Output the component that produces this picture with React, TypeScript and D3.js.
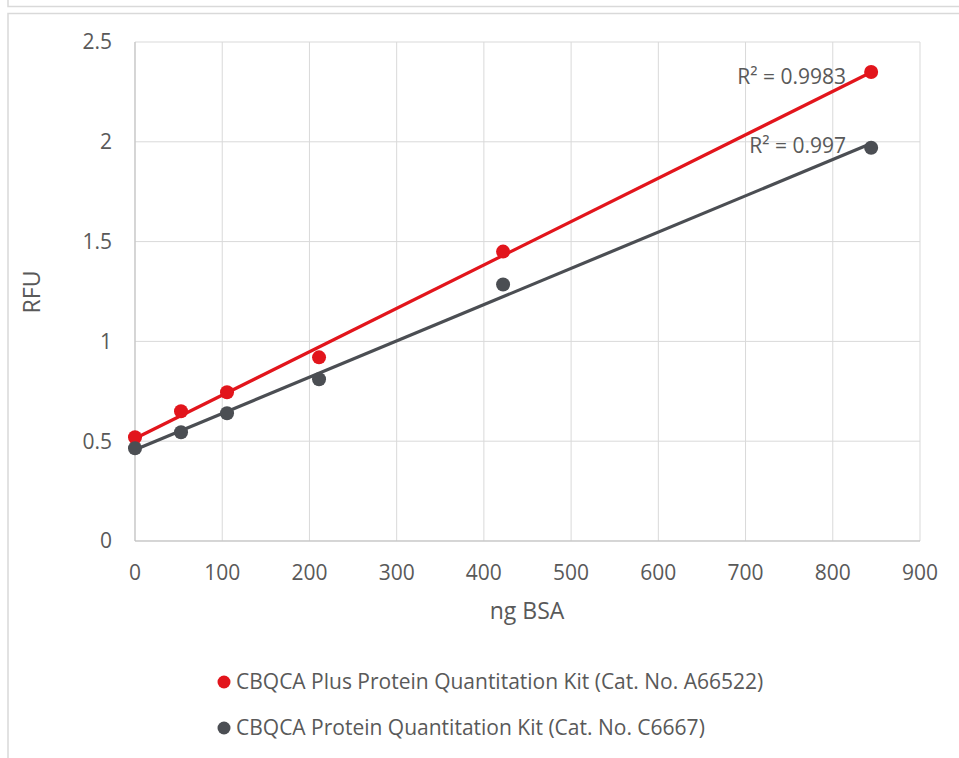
import { useRef, useEffect } from 'react'
import * as d3 from 'd3'

// ng BSA loaded per well
const xValues = [0, 52.75, 105.5, 211, 422, 844]
const plusRfu = [0.52, 0.65, 0.745, 0.92, 1.45, 2.35]
const classicRfu = [0.465, 0.545, 0.64, 0.81, 1.285, 1.97]
const xTicks = [0, 100, 200, 300, 400, 500, 600, 700, 800, 900]
const yTicks = [0, 0.5, 1, 1.5, 2, 2.5]
const seriesNames = [
  'CBQCA Plus Protein Quantitation Kit (Cat. No. A66522)',
  'CBQCA Protein Quantitation Kit (Cat. No. C6667)',
]
const r2Labels = ['R² = 0.9983', 'R² = 0.997']

const FONT = "'Open Sans', 'Noto Sans', sans-serif"
const TEXT = '#595959'
const COLORS = ['#e2151c', '#4b4e53']

function fit(xs: number[], ys: number[]) {
  const mx = d3.mean(xs) as number
  const my = d3.mean(ys) as number
  const sxy = d3.sum(xs, (x, i) => (x - mx) * (ys[i] - my))
  const sxx = d3.sum(xs, (x) => (x - mx) ** 2)
  const slope = sxy / sxx
  return { slope, intercept: my - slope * mx }
}

export default function App() {
  const svgRef = useRef<SVGSVGElement>(null)

  useEffect(() => {
    const svg = svgRef.current
    if (!svg) return
    const H = 758
    const sel = d3.select(svg)
    sel.selectAll('*').remove()

    // frame lines
    sel.append('path').attr('d', 'M8,0 V6.5 H959').attr('fill', 'none').attr('stroke', '#d9d9d9').attr('stroke-width', 1.5)
    sel.append('path').attr('d', `M8,${H} V13.5 H959`).attr('fill', 'none').attr('stroke', '#d9d9d9').attr('stroke-width', 1.5)

    const x = d3.scaleLinear().domain([0, 900]).range([135, 920])
    const y = d3.scaleLinear().domain([0, 2.5]).range([541, 42])

    const grid = sel.append('g')
    xTicks.forEach((t) => {
      grid.append('line')
        .attr('x1', x(t)).attr('x2', x(t)).attr('y1', y(0)).attr('y2', y(2.5))
        .attr('stroke', '#d9d9d9').attr('stroke-width', 1)
    })
    yTicks.forEach((t) => {
      grid.append('line')
        .attr('x1', x(0)).attr('x2', x(900)).attr('y1', y(t)).attr('y2', y(t))
        .attr('stroke', '#d9d9d9').attr('stroke-width', 1)
    })
    // axis lines
    sel.append('line').attr('x1', x(0)).attr('x2', x(900)).attr('y1', y(0)).attr('y2', y(0)).attr('stroke', '#bfbfbf')
    sel.append('line').attr('x1', x(0)).attr('x2', x(0)).attr('y1', y(0)).attr('y2', y(2.5)).attr('stroke', '#bfbfbf')

    yTicks.forEach((t) => {
      sel.append('text')
        .attr('x', 112).attr('y', y(t)).attr('dy', '0.35em')
        .attr('text-anchor', 'end').attr('fill', TEXT)
        .attr('font-family', FONT).attr('font-size', 21)
        .text(String(t))
    })
    xTicks.forEach((t) => {
      sel.append('text')
        .attr('x', x(t)).attr('y', 573).attr('dy', '0.35em')
        .attr('text-anchor', 'middle').attr('fill', TEXT)
        .attr('font-family', FONT).attr('font-size', 21)
        .text(String(t))
    })

    sel.append('text')
      .attr('x', 527).attr('y', 611).attr('dy', '0.35em')
      .attr('text-anchor', 'middle').attr('fill', TEXT)
      .attr('font-family', FONT).attr('font-size', 23)
      .text('ng BSA')
    sel.append('text')
      .attr('transform', `translate(32,292) rotate(-90)`).attr('dy', '0.35em')
      .attr('text-anchor', 'middle').attr('fill', TEXT)
      .attr('font-family', FONT).attr('font-size', 23)
      .text('RFU')

    const series = [plusRfu, classicRfu]
    series.forEach((vals, i) => {
      const { slope, intercept } = fit(xValues, vals)
      const x0 = xValues[0]
      const x1 = xValues[xValues.length - 1]
      sel.append('line')
        .attr('x1', x(x0)).attr('y1', y(intercept + slope * x0))
        .attr('x2', x(x1)).attr('y2', y(intercept + slope * x1))
        .attr('stroke', COLORS[i]).attr('stroke-width', 3.2)
      vals.forEach((v, j) => {
        sel.append('circle')
          .attr('cx', x(xValues[j])).attr('cy', y(v)).attr('r', 7)
          .attr('fill', COLORS[i])
      })
    })

    // R² annotations
    const r2Pos = [[846, 77], [846, 146]]
    r2Labels.forEach((label, i) => {
      sel.append('text')
        .attr('x', r2Pos[i][0]).attr('y', r2Pos[i][1]).attr('dy', '0.35em')
        .attr('text-anchor', 'end').attr('fill', TEXT)
        .attr('font-family', FONT).attr('font-size', 21)
        .text(label)
    })

    // legend
    seriesNames.forEach((name, i) => {
      const ly = 682 + i * 46
      sel.append('circle').attr('cx', 224).attr('cy', ly).attr('r', 6.5).attr('fill', COLORS[i])
      sel.append('text')
        .attr('x', 236).attr('y', ly).attr('dy', '0.35em')
        .attr('fill', TEXT).attr('font-family', FONT).attr('font-size', 21)
        .text(name)
    })
  }, [])

  return (
    <svg
      ref={svgRef}
      width={959}
      height={758}
      style={{ position: 'absolute', left: 0, top: 0, background: '#fff' }}
    />
  )
}
